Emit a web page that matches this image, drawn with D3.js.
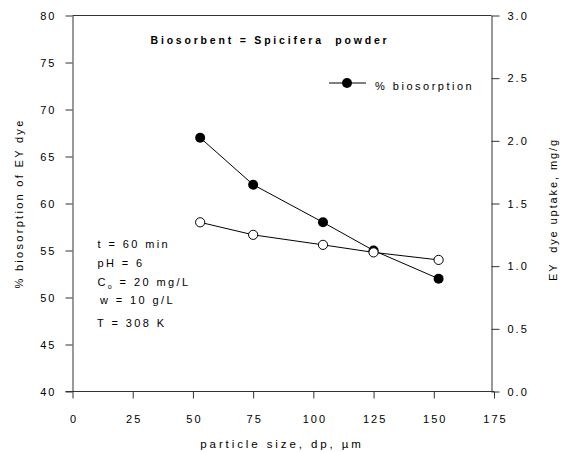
<!DOCTYPE html>
<html>
<head>
<meta charset="utf-8">
<script src="https://cdn.jsdelivr.net/npm/d3@7"></script>
<style>
  html, body { margin: 0; padding: 0; background: #fff; }
  svg { display: block; }
  text { font-family: Arial, "Liberation Sans", Helvetica, sans-serif; fill: #000; white-space: pre; }
</style>
</head>
<body>
<svg id="chart" width="562" height="452"></svg>
<script>
// Particle size (µm) of the biosorbent
const particleSize = [53, 75, 104, 125, 152];
// Percentage biosorption of EY dye (left axis, filled markers)
const biosorption = [67, 62, 58, 55, 52];
// EY dye uptake, mg/g (right axis, open markers)
const uptake = [1.35, 1.25, 1.17, 1.11, 1.05];

// Tick values for the three axes
const xTicks = [0, 25, 50, 75, 100, 125, 150, 175];
const leftTicks = [40, 45, 50, 55, 60, 65, 70, 75, 80];
const rightTicks = [0.0, 0.5, 1.0, 1.5, 2.0, 2.5, 3.0];

// Experimental conditions printed inside the plot
const conditions = [
  { main: "t = 60 min" },
  { main: "pH = 6" },
  { main: "C", sub: "o", rest: " = 20 mg/L" },
  { main: "w = 10 g/L" },
  { main: "T = 308 K" }
];

const svg = d3.select("#chart");

const frame = { left: 72.5, right: 491.5, top: 15.5, bottom: 391.5 };

const x = d3.scaleLinear().domain([0, 175]).range([frame.left, 494]);
const yL = d3.scaleLinear().domain([40, 80]).range([frame.bottom, frame.top]);
const yR = d3.scaleLinear().domain([0, 3]).range([frame.bottom, frame.top]);

const LS = 2; // letter spacing for tick labels
const axisColor = "#333";

// Bottom axis
const gx = svg.append("g")
  .attr("transform", `translate(0,${frame.bottom})`)
  .call(d3.axisBottom(x).tickValues(xTicks).tickSize(7).tickSizeOuter(0)
    .tickPadding(17).tickFormat(d3.format("d")));
gx.select(".domain").attr("stroke", axisColor).attr("d", `M${frame.left - 7},0H${x(175)}`);
gx.selectAll(".tick line").attr("stroke", axisColor);
gx.selectAll(".tick text")
  .attr("font-size", 11).attr("letter-spacing", LS)
  .attr("dx", LS / 2);

// Left axis
const gl = svg.append("g")
  .attr("transform", `translate(${frame.left},0)`)
  .call(d3.axisLeft(yL).tickValues(leftTicks).tickSize(7).tickSizeOuter(0)
    .tickPadding(11 - LS).tickFormat(d3.format("d")));
gl.select(".domain").attr("stroke", axisColor);
gl.selectAll(".tick line").attr("stroke", axisColor);
gl.selectAll(".tick text").attr("font-size", 11).attr("letter-spacing", LS);

// Right axis
const gr = svg.append("g")
  .attr("transform", `translate(${frame.right},0)`)
  .call(d3.axisRight(yR).tickValues(rightTicks).tickSize(8).tickSizeOuter(0)
    .tickPadding(8).tickFormat(d3.format(".1f")));
gr.select(".domain").attr("stroke", axisColor);
gr.selectAll(".tick line").attr("stroke", axisColor);
gr.selectAll(".tick text").attr("font-size", 11).attr("letter-spacing", LS);

// Top border of the frame
svg.append("line")
  .attr("x1", frame.left).attr("x2", frame.right)
  .attr("y1", frame.top).attr("y2", frame.top)
  .attr("stroke", axisColor);

// Axis titles
svg.append("text")
  .attr("x", (frame.left + frame.right) / 2).attr("y", 448)
  .attr("text-anchor", "middle").attr("font-size", 11.5).attr("letter-spacing", 2.9)
  .text("particle size, dp, \u00b5m");

svg.append("text")
  .attr("transform", `translate(23,${(frame.top + frame.bottom) / 2}) rotate(-90)`)
  .attr("text-anchor", "middle").attr("font-size", 11).attr("letter-spacing", 2.3)
  .text("% biosorption of EY dye");

svg.append("text")
  .attr("transform", `translate(557,${(frame.top + frame.bottom) / 2 + 6}) rotate(-90)`)
  .attr("text-anchor", "middle").attr("font-size", 11).attr("letter-spacing", 1.9)
  .text("EY  dye uptake, mg/g");

// Heading inside the plot
svg.append("text")
  .attr("x", 270).attr("y", 44)
  .attr("text-anchor", "middle").attr("font-size", 10.5).attr("font-weight", "bold")
  .attr("letter-spacing", 2.8)
  .text("Biosorbent = Spicifera  powder");

// Conditions block
const condY = [248, 267, 286, 304, 327];
const condX = [97.5, 97.5, 97.5, 100, 97];
const cond = svg.append("g").attr("font-size", 11).attr("letter-spacing", 2.4);
conditions.forEach((c, i) => {
  const t = cond.append("text").attr("x", condX[i]).attr("y", condY[i]);
  t.append("tspan").text(c.main);
  if (c.sub) {
    t.append("tspan").attr("font-size", 7).attr("dy", 3).text(c.sub);
    t.append("tspan").attr("dy", -3).text(c.rest);
  }
});

// Series lines and markers
const lineL = d3.line().x((d, i) => x(particleSize[i])).y(d => yL(d));
const lineR = d3.line().x((d, i) => x(particleSize[i])).y(d => yR(d));

svg.append("path").datum(biosorption)
  .attr("d", lineL).attr("fill", "none").attr("stroke", "#000").attr("stroke-width", 1);
svg.selectAll(".filled").data(biosorption).enter().append("circle")
  .attr("class", "filled")
  .attr("cx", (d, i) => x(particleSize[i])).attr("cy", d => yL(d))
  .attr("r", 5).attr("fill", "#000");

svg.append("path").datum(uptake)
  .attr("d", lineR).attr("fill", "none").attr("stroke", "#000").attr("stroke-width", 1);
svg.selectAll(".open").data(uptake).enter().append("circle")
  .attr("class", "open")
  .attr("cx", (d, i) => x(particleSize[i])).attr("cy", d => yR(d))
  .attr("r", 4.6).attr("fill", "#fff").attr("stroke", "#000").attr("stroke-width", 1);

// Legend
const lg = svg.append("g");
lg.append("line").attr("x1", 329).attr("x2", 366).attr("y1", 83).attr("y2", 83)
  .attr("stroke", "#000");
lg.append("circle").attr("cx", 347).attr("cy", 83).attr("r", 5).attr("fill", "#000");
lg.append("text").attr("x", 375).attr("y", 90).attr("font-size", 11).attr("letter-spacing", 2.5)
  .text("% biosorption");
</script>
</body>
</html>
